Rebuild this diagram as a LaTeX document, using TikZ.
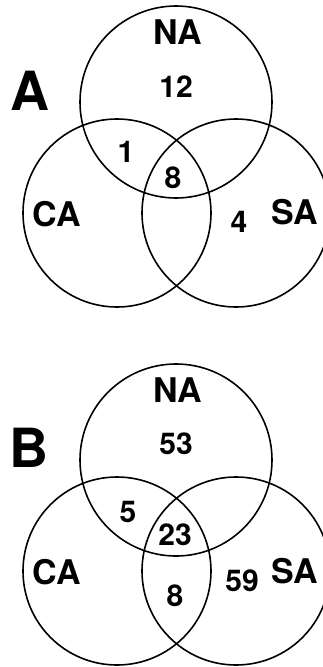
\documentclass[tikz,border=0pt]{standalone}
\usepackage{fontspec}
\setmainfont{TeX Gyre Heros}
\begin{document}
\begin{tikzpicture}[x=1pt,y=-1pt,
  ring/.style={draw=black,line width=1.6pt},
  setname/.style={font=\fontsize{34}{34}\selectfont\bfseries,inner sep=0pt},
  count/.style={font=\fontsize{30}{30}\selectfont\bfseries,inner sep=0pt},
  panel/.style={font=\fontsize{54}{54}\selectfont\bfseries,inner sep=0pt}]
\useasboundingbox (0,0) rectangle (323,667);
% two three-set Venn diagrams, the second shifted down
\foreach \dy in {0,358}{
  \begin{scope}[yshift=-\dy pt]
    \draw[ring] (176,102) circle[radius=96];
    \draw[ring] (117,213) circle[radius=94];
    \draw[ring] (236,213) circle[radius=94];
  \end{scope}
}
% panel A
\node[panel] (pa) at (30,91) {A};
\node[setname] (naA) at (178,32) {NA};
\node[setname] (caA) at (57,214) {CA};
\node[setname] (saA) at (295,212) {SA};
\node[count] (a1) at (176,87) {12};
\node[count] (a2) at (126,152) {1};
\node[count] (a3) at (173,178) {8};
\node[count] (a4) at (239,222) {4};
% panel B
\node[panel] (pb) at (29,448) {B};
\node[setname] (naB) at (178,390) {NA};
\node[setname] (caB) at (57,572) {CA};
\node[setname] (saB) at (295,571) {SA};
\node[count] (b1) at (176,444) {53};
\node[count] (b2) at (128,512) {5};
\node[count] (b3) at (175,535) {23};
\node[count] (b4) at (175,596) {8};
\node[count] (b5) at (242,581) {59};
\end{tikzpicture}
\end{document}
